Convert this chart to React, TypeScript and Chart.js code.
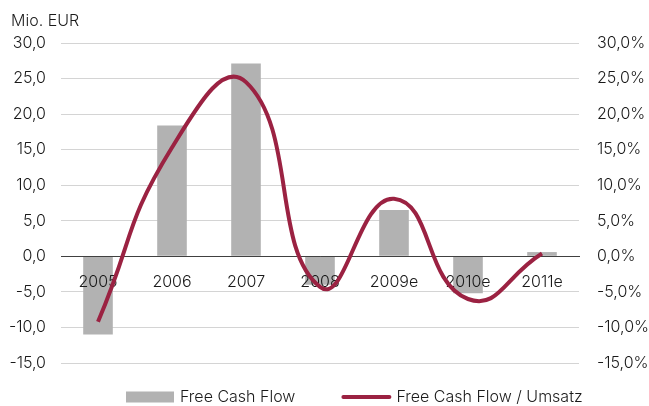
import React, { useEffect, useRef } from "react";
import { Chart, registerables } from "chart.js";

Chart.register(...registerables);

const categories = ["2005", "2006", "2007", "2008", "2009e", "2010e", "2011e"];
const freeCashFlow = [-11.0, 18.4, 27.1, -4.0, 6.5, -5.2, 0.6];
const fcfToSales = [-9.2, 15.3, 24.5, -4.3, 8.1, -6.0, 0.4];
const axisTicks = { min: -15, max: 30, step: 5 };
const seriesNames = ["Free Cash Flow", "Free Cash Flow / Umsatz"];

const FONT = "Inter, 'Liberation Sans', Arial, sans-serif";
const FSIZE = 16;
const FWEIGHT = 300;
const TEXT = "#1a1a1a";
const BAR_COLOR = "#b2b2b2";
const LINE_COLOR = "#9b2242";

const fmt = (v: number) => v.toFixed(1).replace(".", ",");

const extras = {
  id: "extras",
  afterUpdate(chart: any) {
    const sx = chart.scales.x;
    if (sx && !sx._origDrawLabels) {
      sx._origDrawLabels = sx.drawLabels;
      sx.drawLabels = () => {};
    }
  },
  afterDatasetDraw(chart: any, args: any) {
    // category labels and zero line sit above the bars but below the line
    if (args.index === 0) {
      const sx = chart.scales.x;
      sx.drawBorder();
      if (sx._origDrawLabels) sx._origDrawLabels.call(sx, chart.chartArea);
    }
  },
  afterDraw(chart: any) {
    const ctx = chart.ctx;
    ctx.save();
    ctx.font = `${FWEIGHT} ${FSIZE}px ${FONT}`;
    ctx.fillStyle = TEXT;
    ctx.textBaseline = "alphabetic";
    ctx.textAlign = "left";
    ctx.fillText("Mio. EUR", 11, 26);

    // legend
    const cy = 397;
    let x = 126;
    ctx.fillStyle = BAR_COLOR;
    ctx.fillRect(x, cy - 5.5, 48, 11);
    x += 48 + 6;
    ctx.fillStyle = TEXT;
    ctx.textBaseline = "middle";
    ctx.fillText(seriesNames[0], x, cy);
    x += ctx.measureText(seriesNames[0]).width + 46;
    ctx.strokeStyle = LINE_COLOR;
    ctx.lineWidth = 4;
    ctx.lineCap = "round";
    ctx.beginPath();
    ctx.moveTo(x + 2, cy);
    ctx.lineTo(x + 48, cy);
    ctx.stroke();
    x += 55;
    ctx.fillText(seriesNames[1], x, cy);
    ctx.restore();
  },
};

export default function App() {
  const ref = useRef<HTMLCanvasElement | null>(null);
  useEffect(() => {
    if (!ref.current) return;
    const tickFont = { family: FONT, size: FSIZE, weight: FWEIGHT as any };
    const chart = new Chart(ref.current, {
      type: "bar",
      data: {
        labels: categories,
        datasets: [
          {
            type: "bar",
            label: seriesNames[0],
            data: freeCashFlow,
            backgroundColor: BAR_COLOR,
            barPercentage: 0.4,
            categoryPercentage: 1,
            yAxisID: "y",
            order: 2,
          },
          {
            type: "line",
            label: seriesNames[1],
            data: fcfToSales,
            borderColor: LINE_COLOR,
            backgroundColor: LINE_COLOR,
            borderWidth: 4,
            pointRadius: 0,
            tension: 0.5,
            yAxisID: "y1",
            order: 1,
          } as any,
        ],
      },
      options: {
        animation: false,
        responsive: true,
        maintainAspectRatio: false,
        layout: { padding: { top: 43, left: 0, right: 0, bottom: 43 } },
        scales: {
          x: {
            position: { y: 0 } as any,
            grid: { display: false, drawTicks: false },
            border: { display: true, color: "#404040", width: 1 },
            ticks: { font: tickFont, color: TEXT, padding: 16 },
          },
          y: {
            position: "left",
            min: axisTicks.min,
            max: axisTicks.max,
            ticks: {
              stepSize: axisTicks.step,
              font: tickFont,
              color: TEXT,
              padding: 15,
              callback: (v: any) => fmt(Number(v)),
            },
            grid: { color: "#d4d4d4", drawTicks: false },
            border: { display: false },
            afterFit: (s: any) => { s.width = 61; },
          },
          y1: {
            position: "right",
            min: axisTicks.min,
            max: axisTicks.max,
            ticks: {
              stepSize: axisTicks.step,
              font: tickFont,
              color: TEXT,
              padding: 18,
              callback: (v: any) => fmt(Number(v)) + "%",
            },
            grid: { display: false, drawTicks: false },
            border: { display: false },
            afterFit: (s: any) => { s.width = 70; },
          },
        },
        plugins: {
          tooltip: { enabled: false },
          legend: { display: false },
        },
      },
      plugins: [extras],
    });
    return () => chart.destroy();
  }, []);
  return (
    <div style={{ position: "fixed", left: 0, top: 0, width: 649, height: 406 }}>
      <canvas ref={ref} />
    </div>
  );
}
